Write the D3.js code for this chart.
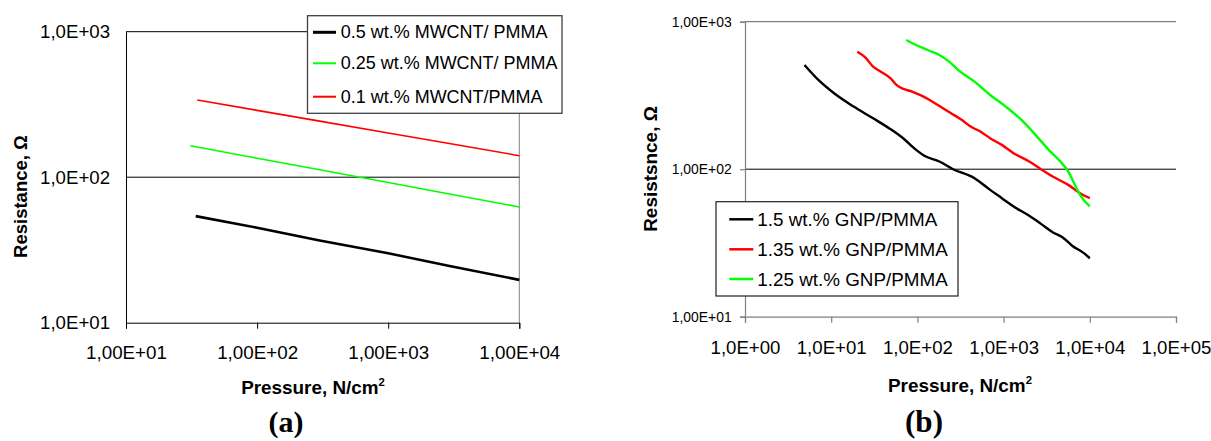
<!DOCTYPE html>
<html>
<head>
<meta charset="utf-8">
<script src="https://cdn.jsdelivr.net/npm/d3@7"></script>
<style>
  html, body { margin: 0; padding: 0; background: #fff; }
  svg { display: block; }
  text { font-family: "Liberation Sans", Arial, sans-serif; fill: #000; }
</style>
</head>
<body>
<svg id="chart" width="1211" height="441"></svg>
<script>
// ---------- Panel (a) data ----------
const aSeriesNames = ["0.5 wt.% MWCNT/ PMMA", "0.25 wt.% MWCNT/ PMMA", "0.1 wt.% MWCNT/PMMA"];
const aColors = ["#000000", "#00ff00", "#ff0000"];
const aBlackP = [34, 100, 300, 1000, 3000, 10000];
const aBlackR = [54, 45, 36.7, 30, 24.4, 19.7];
const aGreenP = [31, 100, 300, 1000, 3000, 10000];
const aGreenR = [164.7, 135, 112.5, 91.9, 76.4, 62.4];
const aRedP = [35, 100, 300, 1000, 3000, 10000];
const aRedR = [339, 288, 243, 201, 170, 140.6];
const aXTicks = [10, 100, 1000, 10000];
const aXTickLabels = ["1,00E+01", "1,00E+02", "1,00E+03", "1,00E+04"];
const aYTicks = [10, 100, 1000];
const aYTickLabels = ["1,0E+01", "1,0E+02", "1,0E+03"];

// ---------- Panel (b) data ----------
const bSeriesNames = ["1.5 wt.% GNP/PMMA", "1.35 wt.% GNP/PMMA", "1.25 wt.% GNP/PMMA"];
const bColors = ["#000000", "#ff0000", "#00ff00"];
const bBlackP = [4.9, 7.1, 10.8, 18.2, 30.6, 48.9, 70.4, 91.4, 118.7, 179.9, 259, 460, 698, 955, 1306, 1982, 2711, 3707, 4809, 6240, 8530, 10000];
const bBlackR = [508.6, 402.6, 327, 265.7, 221.5, 186.6, 159.7, 138.8, 123.8, 112.7, 100, 86.9, 72.4, 63.6, 55.9, 48.3, 42.6, 37.4, 34.6, 30.3, 27, 24.9];
const bRedP = [20.1, 24.8, 30.6, 37.7, 48.9, 57.2, 69, 86.8, 106.9, 138.7, 179.9, 246, 319, 415, 538, 698, 955, 1306, 1982, 2711, 3707, 5623, 7690, 10000];
const bRedR = [626, 573.5, 495.6, 458.6, 413.4, 372.5, 350, 335.7, 318.7, 294.8, 268.5, 239.4, 218, 194.5, 179.9, 162.2, 146.2, 128.4, 112.7, 100, 89.2, 78.3, 68.8, 63.6];
const bGreenP = [74.2, 96.3, 131.7, 179.9, 233.6, 303.4, 460, 698, 1059, 1610, 2443, 3340, 4560, 5623, 6577, 7690, 10000];
const bGreenR = [751, 695, 642.7, 594.8, 535.9, 465.9, 392.5, 318.7, 265.7, 215.8, 166.4, 135.2, 112.7, 96.4, 80.4, 67, 55.9];
const bXTicks = [1, 10, 100, 1000, 10000, 100000];
const bXTickLabels = ["1,0E+00", "1,0E+01", "1,0E+02", "1,0E+03", "1,0E+04", "1,0E+05"];
const bYTicks = [10, 100, 1000];
const bYTickLabels = ["1,00E+01", "1,00E+02", "1,00E+03"];

const svg = d3.select("#chart");
const zip = (P, R) => P.map((p, i) => ({p, r: R[i]}));

// scale font-size of a selection so that its first node reaches a target width
function fitFont(sel, target) {
  const n = sel.node();
  const fs = parseFloat(getComputedStyle(n).fontSize);
  const w = n.getComputedTextLength();
  const nf = w > 0 ? fs * target / w : fs;
  sel.style("font-size", nf + "px");
  return nf;
}

function xTitle(g, cx, baseline, target) {
  const t = g.append("text").attr("x", cx).attr("y", baseline).attr("text-anchor", "middle")
    .style("font-size", "18px").style("font-weight", "bold");
  const main = t.append("tspan").text("Pressure, N/cm");
  const sup = t.append("tspan").text("2").style("font-weight", "bold");
  const fs = parseFloat(getComputedStyle(t.node()).fontSize);
  const w = main.node().getComputedTextLength();
  const nf = fs * target / w;
  t.style("font-size", nf + "px");
  sup.style("font-size", (nf * 0.6) + "px").attr("dy", -nf * 0.4);
}

// ================= Panel (a) =================
(function () {
  const x = d3.scaleLog().domain([10, 10000]).range([126, 519.3]);
  const y = d3.scaleLog().domain([10, 1000]).range([322.7, 31.7]);
  const g = svg.append("g");

  g.append("line").attr("x1", x(10000)).attr("x2", x(10000)).attr("y1", y(1000)).attr("y2", y(10))
    .attr("stroke", "#808080").attr("stroke-width", 1);
  aYTicks.filter(d => d > 10).forEach(d => {
    g.append("line").attr("x1", x(10)).attr("x2", x(10000)).attr("y1", y(d)).attr("y2", y(d))
      .attr("stroke", "#000").attr("stroke-width", 1);
  });

  const xa = g.append("g").attr("transform", `translate(0,${y(10)})`)
    .call(d3.axisBottom(x).tickValues(aXTicks).tickFormat((d, i) => aXTickLabels[i]).tickSizeOuter(0).tickSize(6).tickPadding(17));
  xa.select(".domain").attr("stroke", "#000");
  xa.selectAll(".tick line").attr("stroke", "#000");
  xa.selectAll("text").style("font-size", "16px").attr("fill", "#000");
  const fx = fitFont(xa.select(".tick text"), 81);
  xa.selectAll("text").style("font-size", fx + "px");

  const ya = g.append("g").attr("transform", `translate(${x(10)},0)`)
    .call(d3.axisLeft(y).tickValues(aYTicks).tickFormat((d, i) => aYTickLabels[i]).tickSizeOuter(0).tickSize(0).tickPadding(16));
  ya.select(".domain").attr("stroke", "#000");
  ya.selectAll("text").style("font-size", "16px").attr("fill", "#000");
  const fy = fitFont(ya.select(".tick text"), 70);
  ya.selectAll("text").style("font-size", fy + "px");

  const line = d3.line().x(d => x(d.p)).y(d => y(d.r));
  const series = [zip(aBlackP, aBlackR), zip(aGreenP, aGreenR), zip(aRedP, aRedR)];
  const widths = [2.6, 1.6, 1.6];
  series.forEach((s, i) => {
    g.append("path").datum(s).attr("d", line).attr("fill", "none")
      .attr("stroke", aColors[i]).attr("stroke-width", widths[i]);
  });

  xTitle(g, 313, 393.5, 137.5);
  const yt = g.append("text").attr("transform", "translate(20.5,196.5) rotate(-90)")
    .attr("text-anchor", "middle").attr("dominant-baseline", "central")
    .style("font-size", "18px").style("font-weight", "bold").text("Resistance, Ω");
  fitFont(yt, 123);

  const lg = g.append("g");
  lg.append("rect").attr("x", 307.5).attr("y", 15.7).attr("width", 254.5).attr("height", 97.6)
    .attr("fill", "#fff").attr("stroke", "#404040").attr("stroke-width", 1.3);
  const rowsY = [32.3, 63.3, 96.7];
  const lw = [3, 2, 2];
  const texts = [];
  aSeriesNames.forEach((n, i) => {
    lg.append("line").attr("x1", 313).attr("x2", 336).attr("y1", rowsY[i]).attr("y2", rowsY[i])
      .attr("stroke", aColors[i]).attr("stroke-width", lw[i]);
    texts.push(lg.append("text").attr("x", 340.7).attr("y", rowsY[i]).attr("dominant-baseline", "central")
      .style("font-size", "18px").text(n));
  });
  const fl = fitFont(texts[0], 207);
  texts.forEach(t => t.style("font-size", fl + "px"));

  const lab = g.append("text").attr("x", 286).attr("y", 432).attr("text-anchor", "middle")
    .style("font-family", "'Liberation Serif', 'Times New Roman', serif").style("font-size", "30px")
    .style("font-weight", "bold").text("(a)");
  fitFont(lab, 35);
})();

// ================= Panel (b) =================
(function () {
  const x = d3.scaleLog().domain([1, 100000]).range([745, 1176]);
  const y = d3.scaleLog().domain([10, 1000]).range([316.7, 21.7]);
  const g = svg.append("g");

  g.append("line").attr("x1", x(1)).attr("x2", x(100000)).attr("y1", y(1000)).attr("y2", y(1000))
    .attr("stroke", "#808080").attr("stroke-width", 1.2);
  g.append("line").attr("x1", x(1)).attr("x2", x(100000)).attr("y1", y(100)).attr("y2", y(100))
    .attr("stroke", "#000").attr("stroke-width", 1);

  const xa = g.append("g").attr("transform", `translate(0,${y(10)})`)
    .call(d3.axisBottom(x).tickValues(bXTicks).tickFormat((d, i) => bXTickLabels[i]).tickSizeOuter(0).tickSize(6).tickPadding(18));
  xa.select(".domain").attr("stroke", "#808080").attr("stroke-width", 1.2);
  xa.selectAll(".tick line").attr("stroke", "#808080").attr("stroke-width", 1.2);
  xa.selectAll("text").style("font-size", "16px").attr("fill", "#000");
  const fx = fitFont(xa.select(".tick text"), 70);
  xa.selectAll("text").style("font-size", fx + "px");

  const ya = g.append("g").attr("transform", `translate(${x(1)},0)`)
    .call(d3.axisLeft(y).tickValues(bYTicks).tickFormat((d, i) => bYTickLabels[i]).tickSizeOuter(0).tickSize(5).tickPadding(8.3));
  ya.select(".domain").attr("stroke", "#808080").attr("stroke-width", 1.2);
  ya.selectAll(".tick line").attr("stroke", "#808080").attr("stroke-width", 1.2);
  ya.selectAll("text").style("font-size", "13px").attr("fill", "#000");
  const fy = fitFont(ya.select(".tick text"), 60);
  ya.selectAll("text").style("font-size", fy + "px");

  const line = d3.line().x(d => x(d.p)).y(d => y(d.r)).curve(d3.curveMonotoneX);
  const series = [zip(bBlackP, bBlackR), zip(bRedP, bRedR), zip(bGreenP, bGreenR)];
  series.forEach((s, i) => {
    g.append("path").datum(s).attr("d", line).attr("fill", "none")
      .attr("stroke", bColors[i]).attr("stroke-width", 2.4);
  });

  xTitle(g, 960, 391.5, 137.8);
  const yt = g.append("text").attr("transform", "translate(650.5,169) rotate(-90)")
    .attr("text-anchor", "middle").attr("dominant-baseline", "central")
    .style("font-size", "18px").style("font-weight", "bold").text("Resistsnce, Ω");
  fitFont(yt, 125.7);

  const lg = g.append("g");
  lg.append("rect").attr("x", 716).attr("y", 201.7).attr("width", 242).attr("height", 94.3)
    .attr("fill", "#fff").attr("stroke", "#202020").attr("stroke-width", 1.2);
  const rowsY = [219.3, 249.3, 279];
  const texts = [];
  bSeriesNames.forEach((n, i) => {
    lg.append("line").attr("x1", 729.3).attr("x2", 753.3).attr("y1", rowsY[i]).attr("y2", rowsY[i])
      .attr("stroke", bColors[i]).attr("stroke-width", 2.5);
    texts.push(lg.append("text").attr("x", 757.3).attr("y", rowsY[i]).attr("dominant-baseline", "central")
      .style("font-size", "18px").text(n));
  });
  const fl = fitFont(texts[0], 180);
  texts.forEach(t => t.style("font-size", fl + "px"));

  const lab = g.append("text").attr("x", 924).attr("y", 432).attr("text-anchor", "middle")
    .style("font-family", "'Liberation Serif', 'Times New Roman', serif").style("font-size", "30px")
    .style("font-weight", "bold").text("(b)");
  fitFont(lab, 38);
})();
</script>
</body>
</html>
